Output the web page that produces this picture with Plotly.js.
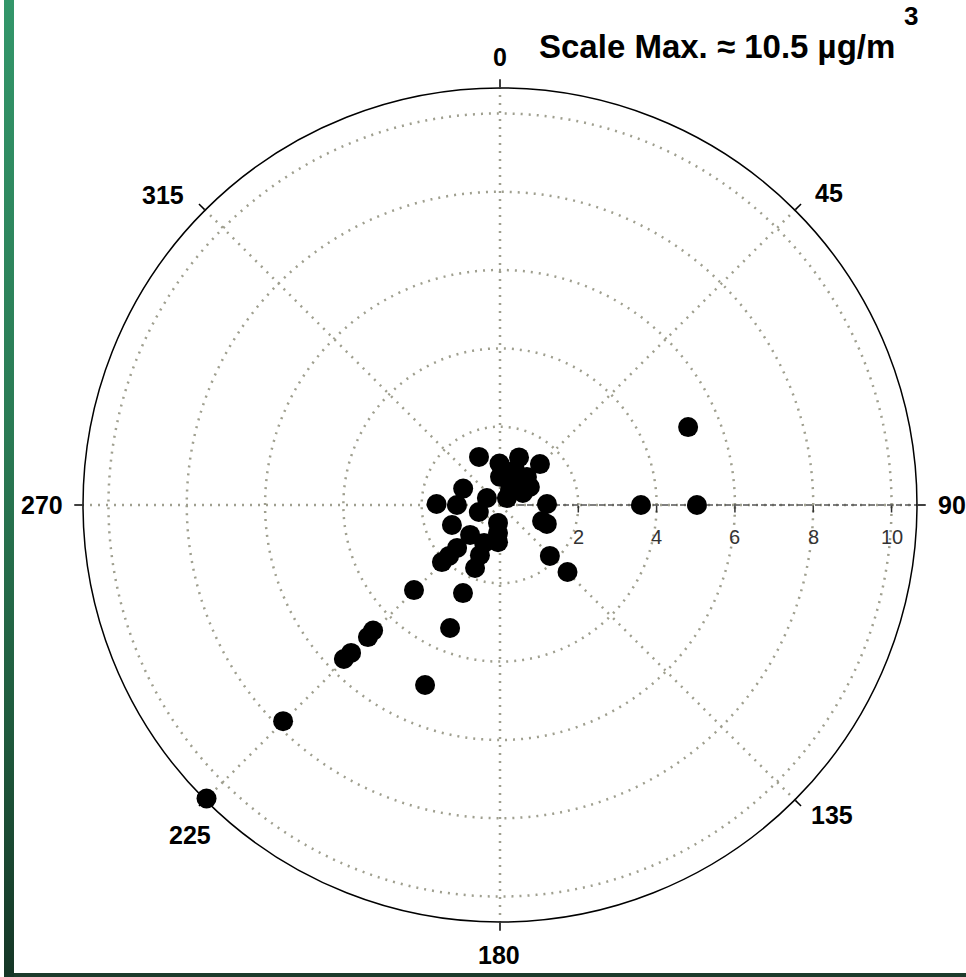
<!DOCTYPE html>
<html>
<head>
<meta charset="utf-8">
<script src="https://cdn.plot.ly/plotly-3.0.1.min.js"></script>
<style>
  html, body { margin: 0; padding: 0; background: #ffffff; }
  #wrap { position: relative; width: 966px; height: 977px; overflow: hidden; }
  #chart { position: absolute; left: 0; top: 0; width: 966px; height: 977px; }
  #strip { position: absolute; left: 4px; top: 0; width: 10px; height: 977px;
           background: linear-gradient(to bottom, #33966a 0%, #2a7a54 45%, #1f5a3d 75%, #153626 100%); z-index: 2; }
  #bottom { position: absolute; left: 14px; top: 973px; width: 952px; height: 4px; background: #1c3b2b; z-index: 2; }
</style>
</head>
<body>
<div id="wrap">
  <div id="chart"></div>
  <div id="strip"></div>
  <div id="bottom"></div>
</div>
<script>
// Wind direction (degrees, clockwise from north) and concentration (µg/m³)
const directions = [67.5, 90, 90, 135.6, 134.8, 225.3, 202.8, 202.1, 225.3, 225, 225.2, 225.4, 202.6, 225.1, 225,
  336.4, 359.3, 21.8, 44.3, 0, 23.2, 44, 33.7, 62.4, 59, 294, 298.3, 270.9, 270, 88.8, 110.9, 112,
  251.6, 247.4, 186.3, 184, 183, 225, 202.8, 201.8, 201.6, 225, 225, 225.5, 24.4, 48, 45];
const concentrations = [5.20, 3.60, 5.03, 1.82, 2.43, 3.09, 2.44, 3.39, 4.56, 4.77, 5.36, 5.60, 4.98, 7.82, 10.6,
  1.34, 1.06, 1.31, 1.46, 0.72, 0.97, 0.99, 0.46, 0.66, 0.89, 1.03, 0.38, 1.62, 1.10, 1.20, 1.15, 1.29,
  0.57, 1.33, 0.46, 0.72, 0.95, 1.08, 1.05, 1.38, 1.73, 1.55, 1.84, 2.08, 0.62, 0.69, 0.25];

const angleTicks = [0, 45, 90, 135, 180, 225, 270, 315];
const angleLabels = ["0", "45", "90", "135", "180", "225", "270", "315"];
const radialTicks = [2, 4, 6, 8, 10];
const radialLabels = ["2", "4", "6", "8", "10"];
const scaleMax = 10.65;

const W = 966, H = 977;
const cx = 500, cy = 505, R = 417;
const FONT = 'Liberation Sans, Arial, sans-serif';

// pixel positions of the compass labels (layout only)
const angleLabelPos = [[500, 57], [829, 193], [952, 505], [832, 815], [499, 955], [190, 835], [42, 505], [163, 195]];

const axisLine = {
  type: 'scatterpolar', mode: 'lines',
  r: [0, scaleMax], theta: [90, 90],
  line: { color: '#555555', width: 1.5, dash: '6px,3px' },
  hoverinfo: 'skip', showlegend: false
};

const points = {
  type: 'scatterpolar', mode: 'markers',
  r: concentrations, theta: directions,
  marker: { color: '#000000', size: 20, line: { width: 0 } },
  showlegend: false
};

const angAnn = angleLabels.map((t, i) => ({
  xref: 'paper', yref: 'paper',
  x: angleLabelPos[i][0] / W, y: 1 - angleLabelPos[i][1] / H,
  xanchor: 'center', yanchor: 'middle', showarrow: false,
  text: t,
  font: { family: FONT, size: 25, color: '#000000', weight: 'bold' }
}));
// radial tick labels below the 90° axis
const radAnn = radialTicks.map((v, i) => ({
  xref: 'paper', yref: 'paper',
  x: (cx + v * R / scaleMax) / W, y: 1 - 537 / H,
  xanchor: 'center', yanchor: 'middle', showarrow: false,
  text: radialLabels[i],
  font: { family: FONT, size: 20, color: '#333333' }
}));

const layout = {
  width: W, height: H,
  margin: { l: 0, r: 0, t: 0, b: 0 },
  paper_bgcolor: '#ffffff',
  showlegend: false,
  polar: {
    domain: { x: [(cx - R) / W, (cx + R) / W], y: [(H - cy - R) / H, (H - cy + R) / H] },
    bgcolor: '#ffffff',
    angularaxis: {
      rotation: 90, direction: 'clockwise',
      tickmode: 'array', tickvals: angleTicks, ticktext: angleLabels,
      showticklabels: false,
      ticks: 'outside', ticklen: 8, tickwidth: 1.5, tickcolor: '#000000',
      showline: true, linecolor: '#000000', linewidth: 1.5,
      showgrid: true, gridcolor: '#9f9f8f', gridwidth: 2.5, griddash: '2px,6px'
    },
    radialaxis: {
      range: [0, scaleMax], angle: 0, side: 'clockwise',
      tickmode: 'array', tickvals: radialTicks, ticktext: radialLabels,
      showticklabels: false,
      ticks: 'outside', ticklen: 7, tickwidth: 1.5, tickcolor: '#333333',
      showline: false,
      showgrid: true, gridcolor: '#9f9f8f', gridwidth: 2.5, griddash: '2px,6px'
    }
  },
  annotations: angAnn.concat(radAnn, [
    { xref: 'paper', yref: 'paper', x: 897 / W, y: 1 - 46 / H, xanchor: 'right', yanchor: 'middle',
      text: 'Scale Max. ≈ 10.5 µg/m', showarrow: false,
      font: { family: FONT, size: 33, color: '#000000', weight: 'bold' } },
    { xref: 'paper', yref: 'paper', x: 911 / W, y: 1 - 16 / H, xanchor: 'center', yanchor: 'middle',
      text: '3', showarrow: false,
      font: { family: FONT, size: 26, color: '#000000', weight: 'bold' } }
  ])
};

Plotly.newPlot('chart', [axisLine, points], layout, { staticPlot: true, displayModeBar: false });
</script>
</body>
</html>
